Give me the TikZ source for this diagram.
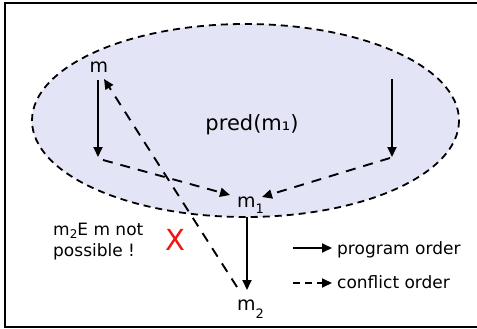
\documentclass[tikz,border=0pt]{standalone}
\usepackage{fontspec}
\setmainfont{DejaVu Sans}
\usetikzlibrary{arrows.meta}
\definecolor{predfill}{RGB}{228,228,247}
\definecolor{xred}{RGB}{240,20,20}
\begin{document}
\begin{tikzpicture}[x=1pt,y=-1pt,
  tip/.style={-{Triangle[length=10pt,width=9pt]}},
  prog/.style={line width=1.9pt,tip},
  conf/.style={line width=1.9pt,dash pattern=on 10pt off 8pt,tip},
  lbl/.style={inner sep=0pt,font=\fontsize{19}{22}\selectfont},
  small/.style={inner sep=0pt,font=\fontsize{17}{21}\selectfont}]
\useasboundingbox (0,0) rectangle (477,329);
\draw[line width=2.2pt] (5,3) rectangle (482,327);
\draw[fill=predfill,line width=1.8pt,dash pattern=on 7pt off 5pt] (245.5,120.5) ellipse [x radius=213.5, y radius=96.5];
% labels
\node[lbl,anchor=base] (m) at (99,73) {m};
\node[lbl,anchor=base,font=\fontsize{21}{24}\selectfont] (pred) at (252,130) {pred(m₁)};
\node[lbl,anchor=base west] (m1) at (237,207) {m\raisebox{-6pt}{\fontsize{13}{13}\selectfont 1}};
\node[lbl,anchor=base west] (m2) at (237,310) {m\raisebox{-8pt}{\fontsize{13}{13}\selectfont 2}};
\node[small,anchor=north west,align=left] (note) at (53,223) {m\raisebox{-3pt}{\fontsize{12}{12}\selectfont 2}E m not\\possible !};
\node[inner sep=0pt,text=xred,font=\fontsize{29}{30}\selectfont,anchor=base] (x) at (175,250) {X};
% coordinates
\coordinate (a0) at (98,80);
\coordinate (a1) at (98,157);
\coordinate (b0) at (392,79);
\coordinate (b1) at (392,157);
\coordinate (a1s) at (103,160);
\coordinate (b1s) at (390,158);
\coordinate (m1w) at (230,195);
\coordinate (m1e) at (262,197);
\coordinate (m1s) at (247,217);
\coordinate (m2n) at (247,290);
\coordinate (m2w) at (237,287);
\coordinate (mse) at (104,79);
% arrows
\draw[prog] (a0) -- (a1);
\draw[prog] (b0) -- (b1);
\draw[conf] (a1s) -- (m1w);
\draw[conf] (b1s) -- (m1e);
\draw[prog] (m1s) -- (m2n);
\draw[conf] (m2w) -- (mse);
% legend
\coordinate (l1a) at (293,248);
\coordinate (l1b) at (332,248);
\coordinate (l2a) at (293,283);
\coordinate (l2b) at (332,283);
\draw[prog] (l1a) -- (l1b);
\draw[conf,dash pattern=on 7pt off 5pt] (l2a) -- (l2b);
\node[small,anchor=base west] (lp) at (337,254) {program order};
\node[small,anchor=base west] (lc) at (337,288) {conflict order};
\end{tikzpicture}
\end{document}
